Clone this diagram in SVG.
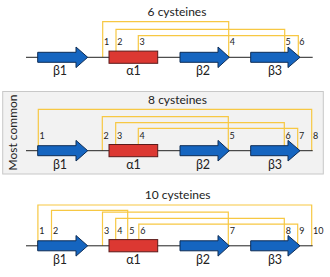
<svg xmlns="http://www.w3.org/2000/svg" width="330" height="277" viewBox="0 0 330 277">
<style>
.bb{stroke:#222;stroke-width:1;fill:none}
.ss{fill:#1565c0;stroke:#0d2c55;stroke-width:1}
.hx{fill:#dc3832;stroke:#5a1a1a;stroke-width:1}
.ds{fill:none;stroke:#f7c843;stroke-width:1.2}
.t{font-family:Lato,"Liberation Sans",sans-serif;fill:#222}
.ti{font-size:12px;text-anchor:middle}
.gl{font-size:12.5px;text-anchor:middle}
.n{font-size:9px}
</style>
<rect id="panel-box" x="2.7" y="91.5" width="320.6" height="82.5" fill="#f2f2f2" stroke="#c8c8c8" stroke-width="1"/>
<text class="t" transform="translate(16.5,132.5) rotate(-90)" font-size="12" text-anchor="middle">Most common</text>

<!-- Panel 1 -->
<g id="panel6" transform="translate(0,57.3)">
<text class="t ti" x="177" y="-41.3">6 cysteines</text>
<g id="p6-connectors">
<path class="ds" d="M102.7,0 V-35.6 H228.7 V0"/>
<path class="ds" d="M116,0 V-28 H284.7 V0"/>
<path class="ds" d="M138.3,0 V-21.6 H298.3 V0"/>
</g>
<line class="bb" x1="26" y1="0" x2="312.7" y2="0"/>
<g id="p6-b1"><path class="ss" d="M37.7,-5 H76 V-10.3 L87.7,0 L76,10.3 V5 H37.7 Z"/><text class="t gl" x="60" y="18">β1</text></g>
<g id="p6-a1"><rect class="hx" x="109" y="-6.2" width="48.7" height="12.2"/><text class="t gl" x="133.5" y="18">α1</text></g>
<g id="p6-b2"><path class="ss" d="M180,-5 H218 V-10.3 L229.3,0 L218,10.3 V5 H180 Z"/><text class="t gl" x="203" y="18">β2</text></g>
<g id="p6-b3"><path class="ss" d="M250.7,-5 H288 V-10.3 L300,0 L288,10.3 V5 H250.7 Z"/><text class="t gl" x="275" y="18">β3</text></g>
<g id="p6-labels" class="t n">
<text x="104" y="-12.3">1</text><text x="117.3" y="-12.3">2</text><text x="139.5" y="-12.3">3</text>
<text x="229.8" y="-12.3">4</text><text x="285.6" y="-12.3">5</text><text x="299.3" y="-12.3">6</text>
</g>
</g>

<!-- Panel 2 -->
<g id="panel8" transform="translate(0,150.7)">
<text class="t ti" x="177.5" y="-46.7">8 cysteines</text>
<g id="p8-connectors">
<path class="ds" d="M38.3,0 V-41.4 H311.7 V0"/>
<path class="ds" d="M102.3,0 V-34 H228.3 V0"/>
<path class="ds" d="M115.7,0 V-28 H284.3 V0"/>
<path class="ds" d="M138.3,0 V-22.4 H297.7 V0"/>
</g>
<line class="bb" x1="26" y1="0" x2="312.7" y2="0"/>
<g id="p8-b1"><path class="ss" d="M37.7,-5 H76 V-10.3 L87.7,0 L76,10.3 V5 H37.7 Z"/><text class="t gl" x="60" y="18">β1</text></g>
<g id="p8-a1"><rect class="hx" x="109" y="-6.2" width="48.7" height="12.2"/><text class="t gl" x="133.5" y="18">α1</text></g>
<g id="p8-b2"><path class="ss" d="M180,-5 H218 V-10.3 L229.3,0 L218,10.3 V5 H180 Z"/><text class="t gl" x="203" y="18">β2</text></g>
<g id="p8-b3"><path class="ss" d="M250.7,-5 H288 V-10.3 L300,0 L288,10.3 V5 H250.7 Z"/><text class="t gl" x="275" y="18">β3</text></g>
<g id="p8-labels" class="t n">
<text x="39.6" y="-12">1</text><text x="103.6" y="-12">2</text><text x="117" y="-12">3</text><text x="139.6" y="-12">4</text>
<text x="229.6" y="-12">5</text><text x="285.6" y="-12">6</text><text x="299" y="-12">7</text><text x="313" y="-12">8</text>
</g>
</g>

<!-- Panel 3 -->
<g id="panel10" transform="translate(0,245.8)">
<text class="t ti" x="177.7" y="-46.8">10 cysteines</text>
<g id="p10-connectors">
<path class="ds" d="M37.9,0 V-40.8 H311.7 V0"/>
<path class="ds" d="M51.5,0 V-35.5 H127.7 V0"/>
<path class="ds" d="M102.5,0 V-33.6 H228.3 V0"/>
<path class="ds" d="M115.7,0 V-27.5 H284.3 V0"/>
<path class="ds" d="M138.8,0 V-21.6 H297.7 V0"/>
</g>
<line class="bb" x1="26" y1="0" x2="312.7" y2="0"/>
<g id="p10-b1"><path class="ss" d="M37.7,-5 H76 V-10.3 L87.7,0 L76,10.3 V5 H37.7 Z"/><text class="t gl" x="60" y="18">β1</text></g>
<g id="p10-a1"><rect class="hx" x="109" y="-6.2" width="48.7" height="12.2"/><text class="t gl" x="133.5" y="18">α1</text></g>
<g id="p10-b2"><path class="ss" d="M180,-5 H218 V-10.3 L229.3,0 L218,10.3 V5 H180 Z"/><text class="t gl" x="203" y="18">β2</text></g>
<g id="p10-b3"><path class="ss" d="M250.7,-5 H288 V-10.3 L300,0 L288,10.3 V5 H250.7 Z"/><text class="t gl" x="275" y="18">β3</text></g>
<g id="p10-labels" class="t n">
<text x="39.2" y="-11.7">1</text><text x="53" y="-11.7">2</text><text x="104" y="-11.7">3</text><text x="117.2" y="-11.7">4</text>
<text x="129.2" y="-11.7">5</text><text x="140.3" y="-11.7">6</text><text x="229.8" y="-11.7">7</text><text x="285.8" y="-11.7">8</text>
<text x="299.2" y="-11.7">9</text><text x="313" y="-11.7">10</text>
</g>
</g>
</svg>
